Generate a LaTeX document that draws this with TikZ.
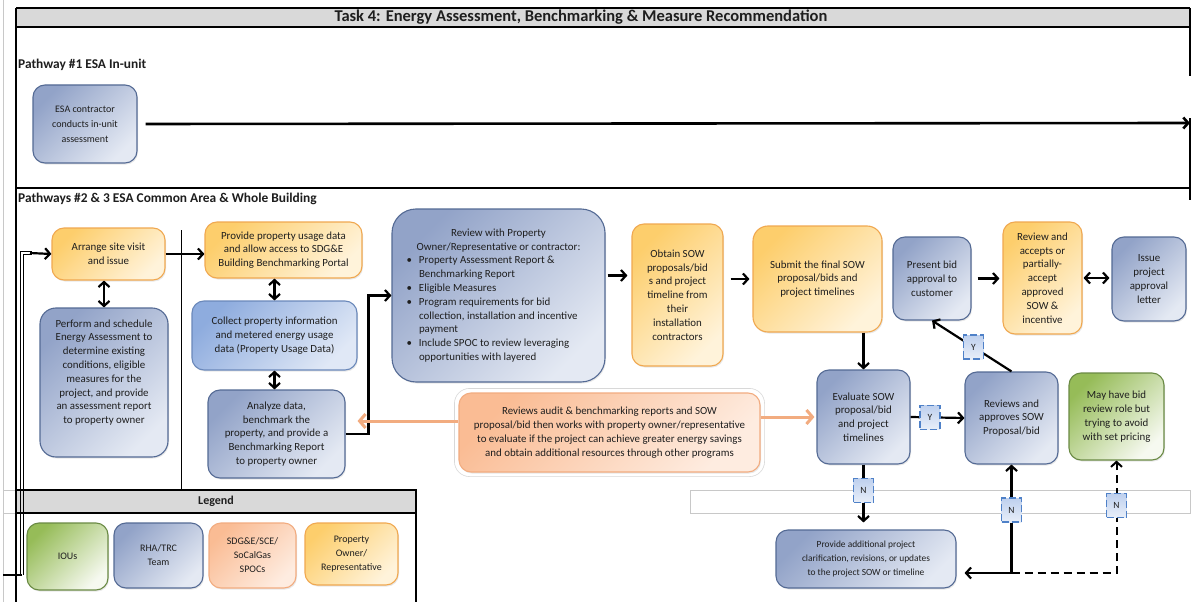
\documentclass[tikz,border=0pt]{standalone}
\usepackage{fontspec}
\setmainfont{Carlito}
\usetikzlibrary{arrows.meta,shadows,calc}

\definecolor{bluetop}{RGB}{146,163,200}
\definecolor{bluebot}{RGB}{228,233,243}
\definecolor{blueedge}{RGB}{84,106,148}
\definecolor{lbluetop}{RGB}{142,172,222}
\definecolor{lbluebot}{RGB}{224,232,246}
\definecolor{lblueedge}{RGB}{106,136,186}
\definecolor{orgtop}{RGB}{253,206,108}
\definecolor{orgbot}{RGB}{255,243,218}
\definecolor{orgedge}{RGB}{240,168,80}
\definecolor{peachtop}{RGB}{250,188,148}
\definecolor{peachbot}{RGB}{254,236,224}
\definecolor{peachedge}{RGB}{242,172,128}
\definecolor{grntop}{RGB}{150,188,88}
\definecolor{grnbot}{RGB}{246,249,240}
\definecolor{grnedge}{RGB}{106,138,68}
\definecolor{headgray}{RGB}{217,217,217}
\definecolor{gridgray}{RGB}{200,200,200}
\definecolor{ynfill}{RGB}{190,208,238}
\definecolor{ynedge}{RGB}{79,129,200}
\definecolor{txt}{RGB}{30,30,30}

\newcommand\bulitem{\makebox[13.5pt][l]{\hspace{1pt}\textbullet}}
\newcommand\bulind{\hspace*{13.5pt}}

\tikzset{
  frame/.style={line width=1.3pt, black},
  box/.style={rounded corners=12pt, line width=1.1pt, inner sep=0pt, align=center,
    text=txt, font=\fontsize{10.9}{13.8}\selectfont,
    drop shadow={opacity=0.18, shadow xshift=1pt, shadow yshift=-1.5pt}},
  bluebox/.style={box, draw=blueedge, top color=bluetop, bottom color=bluebot, shading angle=45},
  lbluebox/.style={box, draw=lblueedge, top color=lbluetop, bottom color=lbluebot, shading angle=45},
  orgbox/.style={box, draw=orgedge, top color=orgtop, bottom color=orgbot, shading angle=45},
  peachbox/.style={box, draw=peachedge, top color=peachtop, bottom color=peachbot, shading angle=45},
  grnbox/.style={box, draw=grnedge, top color=grntop, bottom color=grnbot, shading angle=45},
  tip/.tip={Straight Barb[length=5pt,width=11pt]},
  arr/.style={line width=2.2pt, -tip},
  arrboth/.style={line width=2.2pt, tip-tip},
  peacharr/.style={line width=3pt, draw=peachedge, -{Straight Barb[length=6pt,width=14pt]}},
  ynlabel/.style={draw=ynedge, line width=1.6pt, dash pattern=on 7pt off 3pt,
    top color=ynfill, bottom color=ynfill!35, minimum width=20pt, minimum height=24pt,
    inner sep=0pt, font=\fontsize{9.5}{10}\selectfont, text=txt},
  sectlabel/.style={anchor=west, font=\fontsize{13.4}{15}\selectfont\bfseries, text=txt, inner sep=0pt}
}

\begin{document}
\begin{tikzpicture}[x=1pt, y=-1pt]
\fill[white] (0,0) rectangle (1192,602);
\useasboundingbox (0,0) rectangle (1192,602);

% sheet grid lines
\draw[gridgray, line width=0.6pt] (3,0) -- (3,602);
\draw[gridgray, line width=0.6pt] (3,490) -- (16,490) (3,513) -- (16,513);
\draw[gridgray, line width=0.8pt] (690,490) rectangle (1190,513);

% outer frame and title band
\fill[headgray] (16,8) rectangle (1190,27);
\draw[frame] (16,8) -- (1190,8);
\draw[frame] (16,27) -- (1190,27);
\draw[frame] (1190,8) -- (1190,76);
\draw[frame] (1190,118) -- (1190,200);
\draw[frame] (16,188) -- (1190,188);
\draw[frame] (16,8) -- (16,602);
\draw[line width=0.8pt] (181,230) -- (181,490);
\node[font=\fontsize{16.5}{18}\selectfont\bfseries, text=txt] (title) at (581,17.5)
  {Task 4: Energy Assessment, Benchmarking \& Measure Recommendation};

% legend frame
\fill[headgray] (16,490) rectangle (416,513);
\draw[frame] (16,490) rectangle (416,513);
\draw[frame] (416,513) -- (416,602);
\node[font=\fontsize{12}{13}\selectfont\bfseries, text=txt] (legendtitle) at (216,501.5) {Legend};

% section labels
\node[sectlabel] (p1) at (18,65) {Pathway \#1 ESA In-unit};
\node[sectlabel] (p23) at (18,199) {Pathways \#2 \& 3 ESA Common Area \& Whole Building};

% pathway 1
\node[bluebox, minimum width=104pt, minimum height=78pt, font=\fontsize{10}{15}\selectfont] (esa) at (85,124)
  {ESA contractor\\conducts in-unit\\assessment};
\coordinate (p1end) at (1190,123);
\draw[line width=2.6pt, -tip, shorten <=8pt] (esa.east) -- (p1end);

% pathways 2 & 3
\node[orgbox, minimum width=113pt, minimum height=52pt] (arrange) at (108.5,254)
  {Arrange site visit\\and issue};
\node[bluebox, rounded corners=16pt, minimum width=128pt, minimum height=149pt] (perform) at (104,382.5)
  {Perform and schedule\\Energy Assessment to\\determine existing\\conditions, eligible\\measures for the\\project, and provide\\an assessment report\\to property owner\\[8pt]};
\node[orgbox, minimum width=157pt, minimum height=56pt] (provide) at (283.5,250)
  {Provide property usage data\\and allow access to SDG\&E\\Building Benchmarking Portal};
\node[lbluebox, minimum width=165pt, minimum height=69pt] (collect) at (274.5,335.5)
  {Collect property information\\and metered energy usage\\data (Property Usage Data)};
\node[bluebox, minimum width=137pt, minimum height=88pt] (analyze) at (276.5,434)
  {Analyze data,\\benchmark the\\property, and provide a\\Benchmarking Report\\to property owner};
\node[bluebox, rounded corners=24pt, minimum width=213pt, minimum height=173pt] (review) at (498.5,295.5)
  {\parbox{186pt}{\centering Review with Property\\Owner/Representative or contractor:\par\raggedright
  \bulitem Property Assessment Report \&\\
  \bulind Benchmarking Report\\
  \bulitem Eligible Measures\\
  \bulitem Program requirements for bid\\
  \bulind collection, installation and incentive\\
  \bulind payment\\
  \bulitem Include SPOC to review leveraging\\
  \bulind opportunities with layered}};
\node[orgbox, minimum width=91pt, minimum height=142pt] (obtain) at (677.5,295)
  {Obtain SOW\\proposals/bid\\s and project\\timeline from\\their\\installation\\contractors};
\node[orgbox, rounded corners=15pt, minimum width=129pt, minimum height=106pt] (submit) at (817.5,279)
  {Submit the final SOW\\proposal/bids and\\project timelines};
\node[bluebox, minimum width=78pt, minimum height=83pt] (present) at (932,278.5)
  {Present bid\\approval to\\customer};
\node[orgbox, minimum width=79pt, minimum height=112pt] (accept) at (1042.5,278)
  {Review and\\accepts or\\partially-\\accept\\approved\\SOW \&\\incentive};
\node[bluebox, minimum width=74pt, minimum height=84pt] (issue) at (1149,279)
  {Issue\\project\\approval\\letter};
\node[bluebox, minimum width=93pt, minimum height=94pt] (evaluate) at (863.5,417)
  {Evaluate SOW\\proposal/bid\\and project\\timelines};
\node[bluebox, minimum width=93pt, minimum height=92pt] (reviews) at (1011.5,418)
  {Reviews and\\approves SOW\\Proposal/bid};
\node[grnbox, minimum width=95pt, minimum height=87pt] (mayhave) at (1116.5,416.5)
  {May have bid\\review role but\\trying to avoid\\with set pricing};
\node[peachbox, minimum width=301pt, minimum height=79pt] (spoc) at (609.5,432.5)
  {Reviews audit \& benchmarking reports and SOW\\proposal/bid then works with property owner/representative\\to evaluate if the project can achieve greater energy savings\\and obtain additional resources through other programs};
\draw[gridgray!70, line width=0.6pt, rounded corners=15pt]
  ($(spoc.south west)+(-4,4)$) rectangle ($(spoc.north east)+(4,-4)$);
\node[bluebox, minimum width=180pt, minimum height=58pt, font=\fontsize{9.4}{14}\selectfont] (addl) at (866,559)
  {Provide additional project\\clarification, revisions, or updates\\to the project SOW or timeline};

% legend entries
\node[grnbox, minimum width=81pt, minimum height=67pt, font=\fontsize{10}{14}\selectfont] (lgiou) at (67.5,556.5) {IOUs};
\node[bluebox, minimum width=89pt, minimum height=65pt, font=\fontsize{10}{14}\selectfont] (lgrha) at (158.5,555.5) {RHA/TRC\\Team};
\node[peachbox, minimum width=87pt, minimum height=65pt, font=\fontsize{10}{14}\selectfont] (lgspoc) at (252.5,555.5) {SDG\&E/SCE/\\SoCalGas\\SPOCs};
\node[orgbox, minimum width=93pt, minimum height=62pt, font=\fontsize{10}{14}\selectfont] (lgown) at (351.5,554) {Property\\Owner/\\Representative};

% incoming double line into the site visit step
\coordinate (inleft) at (3,575);
\coordinate (incorner) at (22,575);
\draw[line width=2.4pt] (inleft) -- (incorner);
\draw[line width=1.2pt] (20.5,575) -- (20.5,251.5) -- (32,251.5);
\draw[line width=1.2pt] (23.5,575) -- (23.5,254.5) -- (32,254.5);
\draw[arr] (30,253) -- (arrange.west);

% connectors
\draw[arr] (arrange.east) -- (arrange.east -| provide.west);
\draw[arrboth] (perform.north |- arrange.south) -- (perform.north);
\draw[arrboth] (collect.north |- provide.south) -- (collect.north);
\draw[arrboth] (collect.south) -- (collect.south |- analyze.north);
\draw[arr] (analyze.east) -- ++(23,0) |- (review.west);
\coordinate (revout) at ([yshift=20pt]review.east);
\draw[arr, shorten <=2pt, shorten >=4pt] (revout) -- (revout -| obtain.west);
\draw[arr, shorten <=7pt, shorten >=3pt] (obtain.east |- submit.west) -- (submit.west);
\draw[arr] (evaluate.north |- submit.south) -- (evaluate.north);
\draw[arr, shorten <=6pt, shorten >=3pt] (present.east) -- (present.east -| accept.west);
\draw[arrboth, shorten <=1pt, shorten >=2pt] (accept.east) -- (accept.east -| issue.west);

\draw[peacharr] ([yshift=11.5pt]spoc.west) -- ([xshift=12pt,yshift=13pt]analyze.east);
\draw[peacharr, shorten >=2pt] ([yshift=15.5pt]spoc.east) -- (evaluate.west);

\draw[arr] (evaluate.east) -- (reviews.west) node[ynlabel, pos=0.36] (y1) {Y};
\draw[arr] (reviews.north) -- (present.south) node[ynlabel, pos=0.48] (y2) {Y};
\draw[arr, shorten >=7pt] (evaluate.south) -- (evaluate.south |- addl.north) node[ynlabel, pos=0.4] (n1) {N};

\coordinate (nstart) at ([yshift=-14pt]addl.east);
\coordinate (njoin) at (nstart -| reviews.south);
\draw[arrboth, shorten <=8pt] (nstart) -- (njoin) -- (reviews.south);
\node[ynlabel] (n2) at ($(njoin)!0.58!(reviews.south)$) {N};
\draw[line width=2pt, dash pattern=on 8pt off 5pt, -tip]
  (njoin) -| (mayhave.south) node[ynlabel, pos=0.8] (n3) {N};
\end{tikzpicture}
\end{document}
